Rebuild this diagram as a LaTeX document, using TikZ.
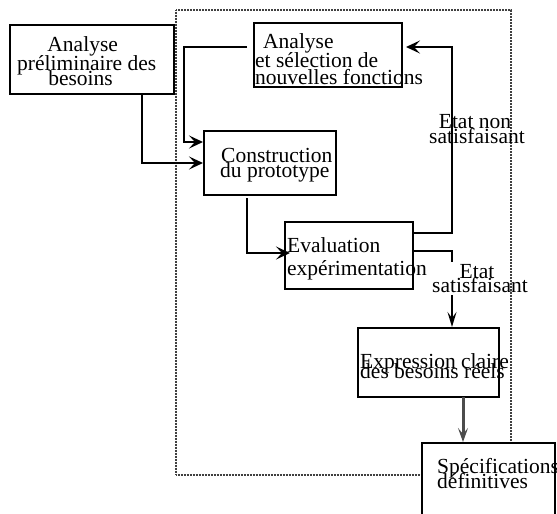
\documentclass[tikz,border=0pt]{standalone}
\usepackage{fontspec}
\setmainfont{Liberation Serif}
\usetikzlibrary{arrows.meta}
\newcommand\boxfont{\fontsize{21.5}{15}\selectfont}
\tikzset{
  boxnode/.style={draw, fill=white, line width=2pt, inner sep=0pt},
  txt/.style={inner sep=0pt, font=\boxfont},
  conn/.style={line width=2pt},
  arr/.style={conn, -{Stealth[length=14pt, width=13pt, inset=6pt]}},
  arrn/.style={conn, -{Stealth[length=15pt, width=9pt, inset=6pt]}},
  garr/.style={line width=3pt, draw=black!70, -{Stealth[length=14pt, width=10pt, inset=6pt]}},
  frame/.style={draw=black!75, line width=1.5pt, dash pattern=on 0.75pt off 0.75pt}
}
\begin{document}
\begin{tikzpicture}[x=1pt, y=-1pt]
\useasboundingbox (0,0) rectangle (557,514);
% dotted frame
\draw[frame] (176,10) rectangle (511,475);
% boxes
\node[boxnode, minimum width=164pt, minimum height=69pt] (b1) at (92,59.5) {};
\node[boxnode, minimum width=148pt, minimum height=64pt] (b2) at (328,55) {};
\node[boxnode, minimum width=132pt, minimum height=64pt] (b3) at (270,163) {};
\node[boxnode, minimum width=128pt, minimum height=67pt] (b4) at (349,255.5) {};
\node[boxnode, minimum width=141pt, minimum height=69pt] (b5) at (428.5,362.5) {};
\node[boxnode, minimum width=133pt, minimum height=97pt] (b6) at (488.5,491.5) {};
% connectors
\coordinate (s1) at (142,94);
\draw[arr] (s1) |- (b3.west);
\coordinate (k0) at (247,47);
\coordinate (k1) at (184,47);
\draw[arr] (k0) -- (k1) |- ([yshift=21pt]b3.west);
\coordinate (s3) at (247,198);
\draw[arr] (s3) |- ([xshift=6pt,yshift=2.5pt]b4.west);
\coordinate (g1) at (452,113);
\coordinate (g2) at (452,145);
\draw[conn] ([yshift=22.5pt]b4.east) -| (g1);
\draw[arr] (g2) |- ([xshift=3pt,yshift=8pt]b2.east);
\coordinate (g3) at (452,262);
\coordinate (g4) at (452,295);
\draw[conn] ([yshift=4.5pt]b4.east) -| (g3);
\draw[arrn] (g4) -- (g4 |- b5.north);
\coordinate (g5) at (463,397);
\draw[garr] (g5) -- (g5 |- b6.north);
% labels
\node[txt, anchor=base] (l1a) at (475,128) {Etat non};
\node[txt, anchor=base] (l1b) at (477,143) {satisfaisant};
\node[txt, anchor=base] (l2a) at (477,278) {Etat};
\node[txt, anchor=base] (l2b) at (480,292) {satisfaisant};
% texts
\node[txt, anchor=base] (t1a) at (82.7,51) {Analyse};
\node[txt, anchor=base] (t1b) at (86.7,70) {préliminaire des};
\node[txt, anchor=base] (t1c) at (80.5,85) {besoins};
\node[txt, anchor=base west] (t2a) at (263,48) {Analyse};
\node[txt, anchor=base west] (t2b) at (255,67) {et sélection de};
\node[txt, anchor=base west] (t2c) at (255,84) {nouvelles fonctions};
\node[txt, anchor=base west] (t3a) at (221,162) {Construction};
\node[txt, anchor=base west] (t3b) at (220,177) {du prototype};
\node[txt, anchor=base west] (t4a) at (287,252) {Evaluation};
\node[txt, anchor=base west] (t4b) at (287,275) {expérimentation};
\node[txt, anchor=base west] (t5a) at (360,368) {Expression claire};
\node[txt, anchor=base west] (t5b) at (360,378) {des besoins réels};
\node[txt, anchor=base west] (t6a) at (437,473) {Spécifications};
\node[txt, anchor=base west] (t6b) at (437,488) {définitives};
\end{tikzpicture}
\end{document}
